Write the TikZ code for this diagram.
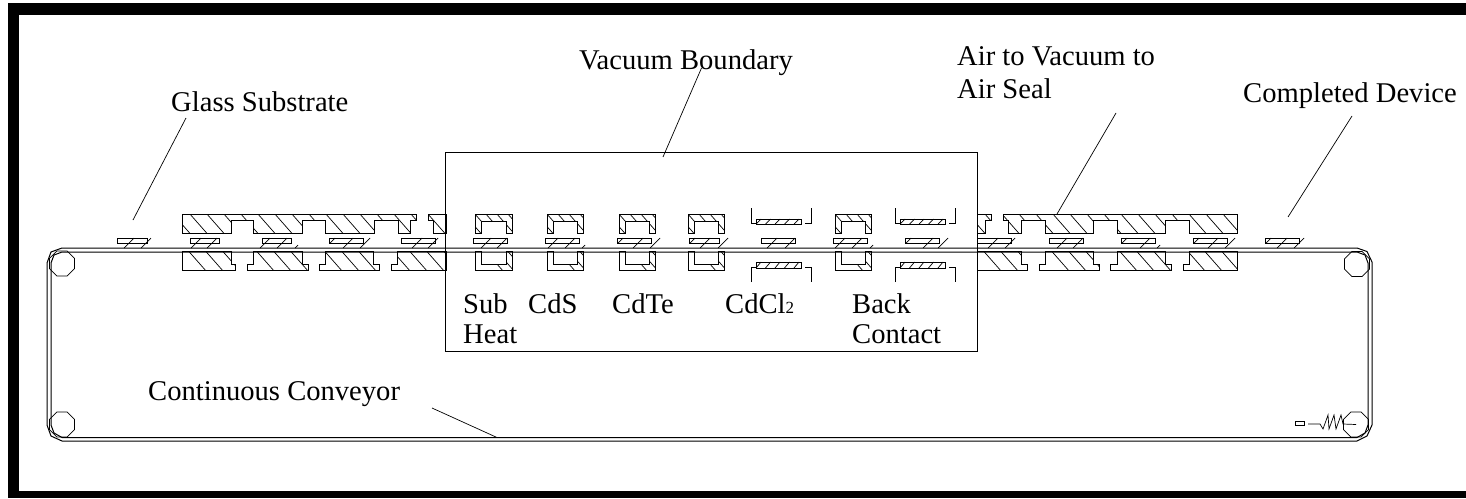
\documentclass[tikz,border=0pt]{standalone}
\usepackage{fontspec}
\setmainfont{Liberation Serif}
\usetikzlibrary{shapes.geometric}
\tikzset{
  hl/.style={line width=0.7pt,black},
  outl/.style={line width=0.9pt,black},
  belt/.style={line width=1pt,black,line join=miter},
  lab/.style={inner sep=0pt,anchor=base west,font=\fontsize{28.6}{30}\selectfont},
  lead/.style={line width=0.7pt,black},
  roller/.style={draw,line width=0.8pt,regular polygon,regular polygon sides=8,minimum size=27pt,inner sep=0pt}
}
% path, first hatch x, last hatch x, step
\newcommand\hatched[4]{%
  \begin{scope}\clip #1;
    \pgfmathsetmacro\nxt{#2+#4}%
    \foreach \i in {#2,\nxt,...,#3}{\draw[hl] (\i,205) -- ++(66,75);}%
  \end{scope}
  \draw[outl] #1 -- cycle;}
% glass x0 x1 ticks
\newcommand\glass[3]{%
  \draw[outl] (#1,238) rectangle (#2,243);
  \foreach \t in {#3}{\draw[hl] (\t,248) -- ++(10,-10);}}
\newcommand\gcorner[1]{\draw[hl] (#1,243) -- ++(5,-5);}
\newcommand\gtiny[1]{\draw[hl] (#1,248) -- ++(3,-3);}
% chamber x0 x1
\newcommand\chamber[2]{%
  \pgfmathsetmacro\a{#1+6}\pgfmathsetmacro\b{#2-6}\pgfmathsetmacro\s{#1-30}%
  \hatched{(#1,214)--(#2,214)--(#2,233)--(\b,233)--(\b,221)--(\a,221)--(\a,233)--(#1,233)}{\s}{#2}{11}
  \hatched{(#1,270)--(#2,270)--(#2,251)--(\b,251)--(\b,264)--(\a,264)--(\a,251)--(#1,251)}{\s}{#2}{11}}
% plate chamber: bracket x0, x1
\newcommand\platebox[2]{%
  \pgfmathsetmacro\pa{#1+5}\pgfmathsetmacro\pb{#2-10}\pgfmathsetmacro\br{#2-6}\pgfmathsetmacro\pn{\pa+9.5}%
  \draw[hl] (#1,208) -- (#1,223) -- (\pa,223);
  \draw[hl] (\br,223) -- (#2,223) -- (#2,208);
  \draw[outl] (\pa,219) rectangle (\pb,224);
  \foreach \i in {\pa,\pn,...,\pb}{\draw[hl] (\i,224) -- ++(5,-5);}
  \draw[hl] (#1,282) -- (#1,267) -- (\pa,267);
  \draw[hl] (\br,267) -- (#2,267) -- (#2,282);
  \draw[outl] (\pa,262) rectangle (\pb,268);
  \foreach \i in {\pa,\pn,...,\pb}{\draw[hl] (\i,268) -- ++(5,-6);}}
\begin{document}
\begin{tikzpicture}[x=1pt,y=-1pt]
\useasboundingbox (0,0) rectangle (1466,498);
% frame
\fill[black] (8,3) rectangle (1466,15);
\fill[black] (8,3) rectangle (19,498);
\fill[black] (8,491) rectangle (1466,498);
% vacuum box
\draw[line width=0.9pt] (445,152) rectangle (977,351);
% conveyor
\draw[belt] (62,248) -- (1357,248) -- (1367,251.5) -- (1372,262) -- (1372,425) -- (1367,436) -- (1357,441) -- (62,441) -- (51,436) -- (47,425) -- (47,263) -- (51,252) -- cycle;
\draw[belt] (62,252) -- (1357,252) -- (1365,255) -- (1368,263) -- (1368,425) -- (1365,433) -- (1357,437.5) -- (62,437.5) -- (54,433) -- (51,425) -- (51,263) -- (54,255) -- cycle;
\node[roller] (r1) at (62,263.5) {};
\node[roller] (r2) at (1357,264) {};
\node[roller] (r3) at (62,424.5) {};
\node[roller] (r4) at (1356,424.5) {};
% left seal upper
\hatched{(182,214)--(416,214)--(416,220)--(410,220)--(410,233)--(398,233)--(398,220)--(374,220)--(374,233)--(325,233)--(325,220)--(302,220)--(302,233)--(253,233)--(253,220)--(231,220)--(231,233)--(182,233)}{148}{420}{17}
\hatched{(428,214)--(446,214)--(446,233)--(433,233)--(433,220)--(428,220)}{148}{450}{17}
% left seal lower
\hatched{(182,251)--(231,251)--(231,264)--(235,264)--(235,270)--(182,270)}{148}{240}{17}
\hatched{(253,251)--(302,251)--(302,264)--(308,264)--(308,270)--(247,270)--(247,264)--(253,264)}{216}{310}{17}
\hatched{(325,251)--(373,251)--(373,264)--(379,264)--(379,270)--(319,270)--(319,264)--(325,264)}{284}{380}{17}
\hatched{(397,251)--(446,251)--(446,270)--(391,270)--(391,264)--(397,264)}{352}{450}{17}
% right seal upper
\hatched{(977,214)--(991,214)--(991,220)--(985,220)--(985,233)--(977,233)}{960}{995}{17}
\hatched{(1003,214)--(1237,214)--(1237,233)--(1189,233)--(1189,220)--(1165,220)--(1165,233)--(1117,233)--(1117,220)--(1093,220)--(1093,233)--(1045,233)--(1045,220)--(1021,220)--(1021,233)--(1008,233)--(1008,220)--(1003,220)}{977}{1240}{17}
% right seal lower
\hatched{(977,251)--(1021,251)--(1021,264)--(1027,264)--(1027,270)--(977,270)}{943}{1030}{17}
\hatched{(1045,251)--(1093,251)--(1093,264)--(1099,264)--(1099,270)--(1039,270)--(1039,264)--(1045,264)}{1011}{1100}{17}
\hatched{(1117,251)--(1165,251)--(1165,264)--(1171,264)--(1171,270)--(1110,270)--(1110,264)--(1117,264)}{1079}{1175}{17}
\hatched{(1189,251)--(1237,251)--(1237,270)--(1183,270)--(1183,264)--(1189,264)}{1147}{1240}{17}
% chambers
\chamber{475}{512}
\chamber{547}{583}
\chamber{619}{655}
\chamber{688}{724}
\chamber{835}{871}
\platebox{751}{811}
\platebox{895}{955}
% glass
\glass{117}{147}{124,141}
\glass{190}{219}{191,207}
\glass{262}{291}{260,277}\gtiny{295}
\glass{329}{363}{343,360}\gcorner{330}
\glass{401}{435}{412,428}
\glass{473}{507}{481,497}
\glass{545}{579}{548,565}\gtiny{582}
\glass{617}{651}{633,650}\gcorner{618}
\glass{689}{719}{700,718}\gcorner{690}
\glass{761}{795}{767,785}
\glass{833}{867}{835,852}\gtiny{870}
\glass{905}{939}{923,938}\gcorner{906}
\glass{977}{1011}{988,1005}
\glass{1049}{1083}{1057,1073}
\glass{1121}{1155}{1140}\gcorner{1122}\gtiny{1157}
\glass{1193}{1227}{1208,1225}\gcorner{1194}
\glass{1265}{1299}{1277,1294}\gcorner{1266}
% tension spring
\draw[line width=0.8pt] (1295,421) rectangle (1304,425);
\draw[hl] (1308,424) -- (1320,424) -- (1323,429) -- (1328,415) -- (1329,429) -- (1334,415) -- (1336,429) -- (1341,415) -- (1343,424) -- (r4.center);
% labels
\node[lab] (glassl) at (171,111) {Glass Substrate};
\node[lab] (vac) at (579,69) {Vacuum Boundary};
\node[lab] (air1) at (957,65) {Air to Vacuum to};
\node[lab] (air2) at (957,98) {Air Seal};
\node[lab] (comp) at (1243,102) {Completed Device};
\node[lab] (conv) at (148,400) {Continuous Conveyor};
\node[lab] (sub) at (463,313) {Sub};
\node[lab] (heat) at (463,343) {Heat};
\node[lab] (cds) at (528,313) {CdS};
\node[lab] (cdte) at (612,313) {CdTe};
\node[lab] (cdcl) at (725,313) {CdCl{\fontsize{17}{17}\selectfont 2}};
\node[lab] (back) at (852,313) {Back};
\node[lab] (cont) at (852,343) {Contact};
% leaders
\coordinate (g1) at (186,118); \coordinate (g2) at (133,220);
\coordinate (v1) at (701.5,68); \coordinate (v2) at (663,157);
\coordinate (a1) at (1116,113); \coordinate (a2) at (1057,214);
\coordinate (c1) at (1352,116); \coordinate (c2) at (1288,217);
\coordinate (k1) at (432,408); \coordinate (k2) at (497,437.5);
\draw[lead] (g1) -- (g2);
\draw[lead] (v1) -- (v2);
\draw[lead] (a1) -- (a2);
\draw[lead] (c1) -- (c2);
\draw[lead] (k1) -- (k2);
\end{tikzpicture}
\end{document}
